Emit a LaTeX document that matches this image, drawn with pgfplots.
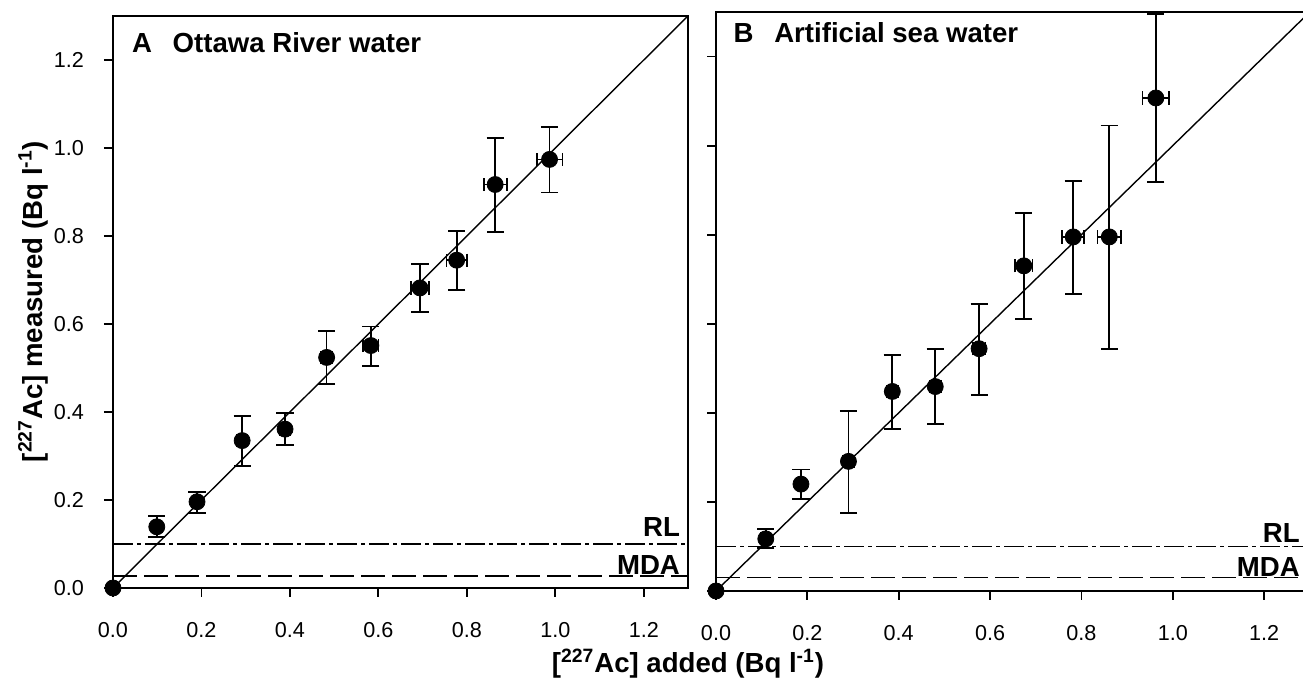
\documentclass[border=0pt]{standalone}
\usepackage{fontspec}
\setmainfont{Liberation Sans}
\usepackage{pgfplots}
\usepackage{pgfplotstable}
\pgfplotsset{compat=1.18}

% x, y, x error, y error plus, y error minus (Bq/l)
\pgfplotstableread{
x     y     xe    yp    ym
0.099 0.139 0.008 0.025 0.023
0.190 0.196 0.010 0.022 0.026
0.292 0.335 0.011 0.056 0.058
0.389 0.361 0.011 0.037 0.036
0.483 0.524 0.012 0.060 0.060
0.583 0.551 0.017 0.043 0.046
0.694 0.682 0.021 0.054 0.055
0.777 0.745 0.023 0.066 0.068
0.864 0.917 0.026 0.106 0.108
0.987 0.974 0.029 0.074 0.075
}\dataA

\pgfplotstableread{
x     y     xe    yp    ym
0.109 0.117 0.010 0.022 0.021
0.186 0.240 0.010 0.033 0.034
0.290 0.291 0.012 0.113 0.116
0.386 0.448 0.012 0.082 0.084
0.480 0.459 0.012 0.084 0.084
0.576 0.544 0.014 0.101 0.104
0.674 0.730 0.019 0.119 0.119
0.782 0.795 0.024 0.126 0.128
0.861 0.795 0.026 0.250 0.252
0.963 1.107 0.029 0.189 0.189
}\dataB

\pgfplotsset{
  panel/.style={
    scale only axis, clip=false,
    xmin=0, xmax=1.3, ymin=0, ymax=1.3,
    axis line style={line width=0.9pt},
    tick align=outside, tick pos=left,
    major tick length=4.5pt,
    every tick/.style={black, line width=0.9pt},
    xtick={0,0.2,0.4,0.6,0.8,1.0,1.2},
    ytick={0,0.2,0.4,0.6,0.8,1.0,1.2},
    ticklabel style={font=\fontsize{10.8}{12}\selectfont},
    x tick label style={yshift=-9pt},
    y tick label style={xshift=-6.5pt},
    /pgf/number format/fixed,
    /pgf/number format/fixed zerofill,
    /pgf/number format/precision=1,
    /pgf/number format/assume math mode=true,
  },
  yerr/.style={black, only marks, mark=none,
    error bars/.cd, y dir=both, y explicit,
    error bar style={line width=0.85pt, black},
    error mark options={rotate=90, mark size=4.3pt, line width=0.85pt, black}},
  xerr/.style={black, only marks, mark=none,
    error bars/.cd, x dir=both, x explicit,
    error bar style={line width=0.85pt, black},
    error mark options={rotate=90, mark size=3.3pt, line width=0.85pt, black}},
  dot/.style={only marks, mark=*, mark size=4pt, black},
  rl/.style={black, line width=0.85pt, dash pattern=on 10pt off 2pt on 2pt off 2pt},
  mda/.style={black, line width=0.85pt, dash pattern=on 12pt off 3.5pt},
}

\begin{document}
\begin{tikzpicture}
\tikzset{big/.style={font=\fontsize{13.8}{15}\selectfont\bfseries}}

% panel A
\begin{axis}[panel, at={(56.5pt,45.5pt)}, anchor=south west,
    width=287.5pt, height=286pt]
\addplot[black, line width=0.7pt] coordinates {(0,0) (1.3,1.3)};
\addplot[rl] coordinates {(0,0.1) (1.3,0.1)};
\addplot[mda] coordinates {(0,0.028) (1.3,0.028)};
\addplot[yerr] table[x=x, y=y, y error plus=yp, y error minus=ym] {\dataA};
\addplot[xerr] table[x=x, y=y, x error=xe] {\dataA};
\addplot[dot] table[x=x, y=y] {\dataA};
\addplot[dot] coordinates {(0,0)};
\node[big, anchor=base east, xshift=-0.5pt, yshift=3.5pt] at (axis cs:1.3,0.1) {RL};
\node[big, anchor=base east, xshift=-0.5pt, yshift=0.5pt] at (axis cs:1.3,0.028) {MDA};
\end{axis}

% panel B
\begin{axis}[panel, at={(358pt,44pt)}, anchor=south west,
    width=296.9pt, height=289.5pt, yticklabels={}]
\addplot[black, line width=0.7pt] coordinates {(0,0) (1.3,1.3)};
\addplot[rl] coordinates {(0,0.1) (1.3,0.1)};
\addplot[mda] coordinates {(0,0.03) (1.3,0.03)};
\addplot[yerr] table[x=x, y=y, y error plus=yp, y error minus=ym] {\dataB};
\addplot[xerr] table[x=x, y=y, x error=xe] {\dataB};
\addplot[dot] table[x=x, y=y] {\dataB};
\addplot[dot] coordinates {(0,0)};
\node[big, anchor=base east, xshift=-1.5pt, yshift=2pt] at (axis cs:1.3,0.1) {RL};
\node[big, anchor=base east, xshift=-1.5pt, yshift=0.5pt] at (axis cs:1.3,0.03) {MDA};
\end{axis}

\node[big, anchor=base west] at (62.5pt,313pt) {A\hspace{0.75em}Ottawa River water};
\node[big, anchor=base west] at (363.3pt,318pt) {B\hspace{0.75em}Artificial sea water};
\node[big, anchor=base] at (344pt,3.2pt) {[\textsuperscript{227}Ac] added (Bq l\textsuperscript{-1})};
\node[big, anchor=base, rotate=90] at (21pt,188.75pt) {[\textsuperscript{227}Ac] measured (Bq l\textsuperscript{-1})};

\pgfresetboundingbox
\path[use as bounding box] (0,0) rectangle (651.5pt,339.5pt);
\end{tikzpicture}
\end{document}
